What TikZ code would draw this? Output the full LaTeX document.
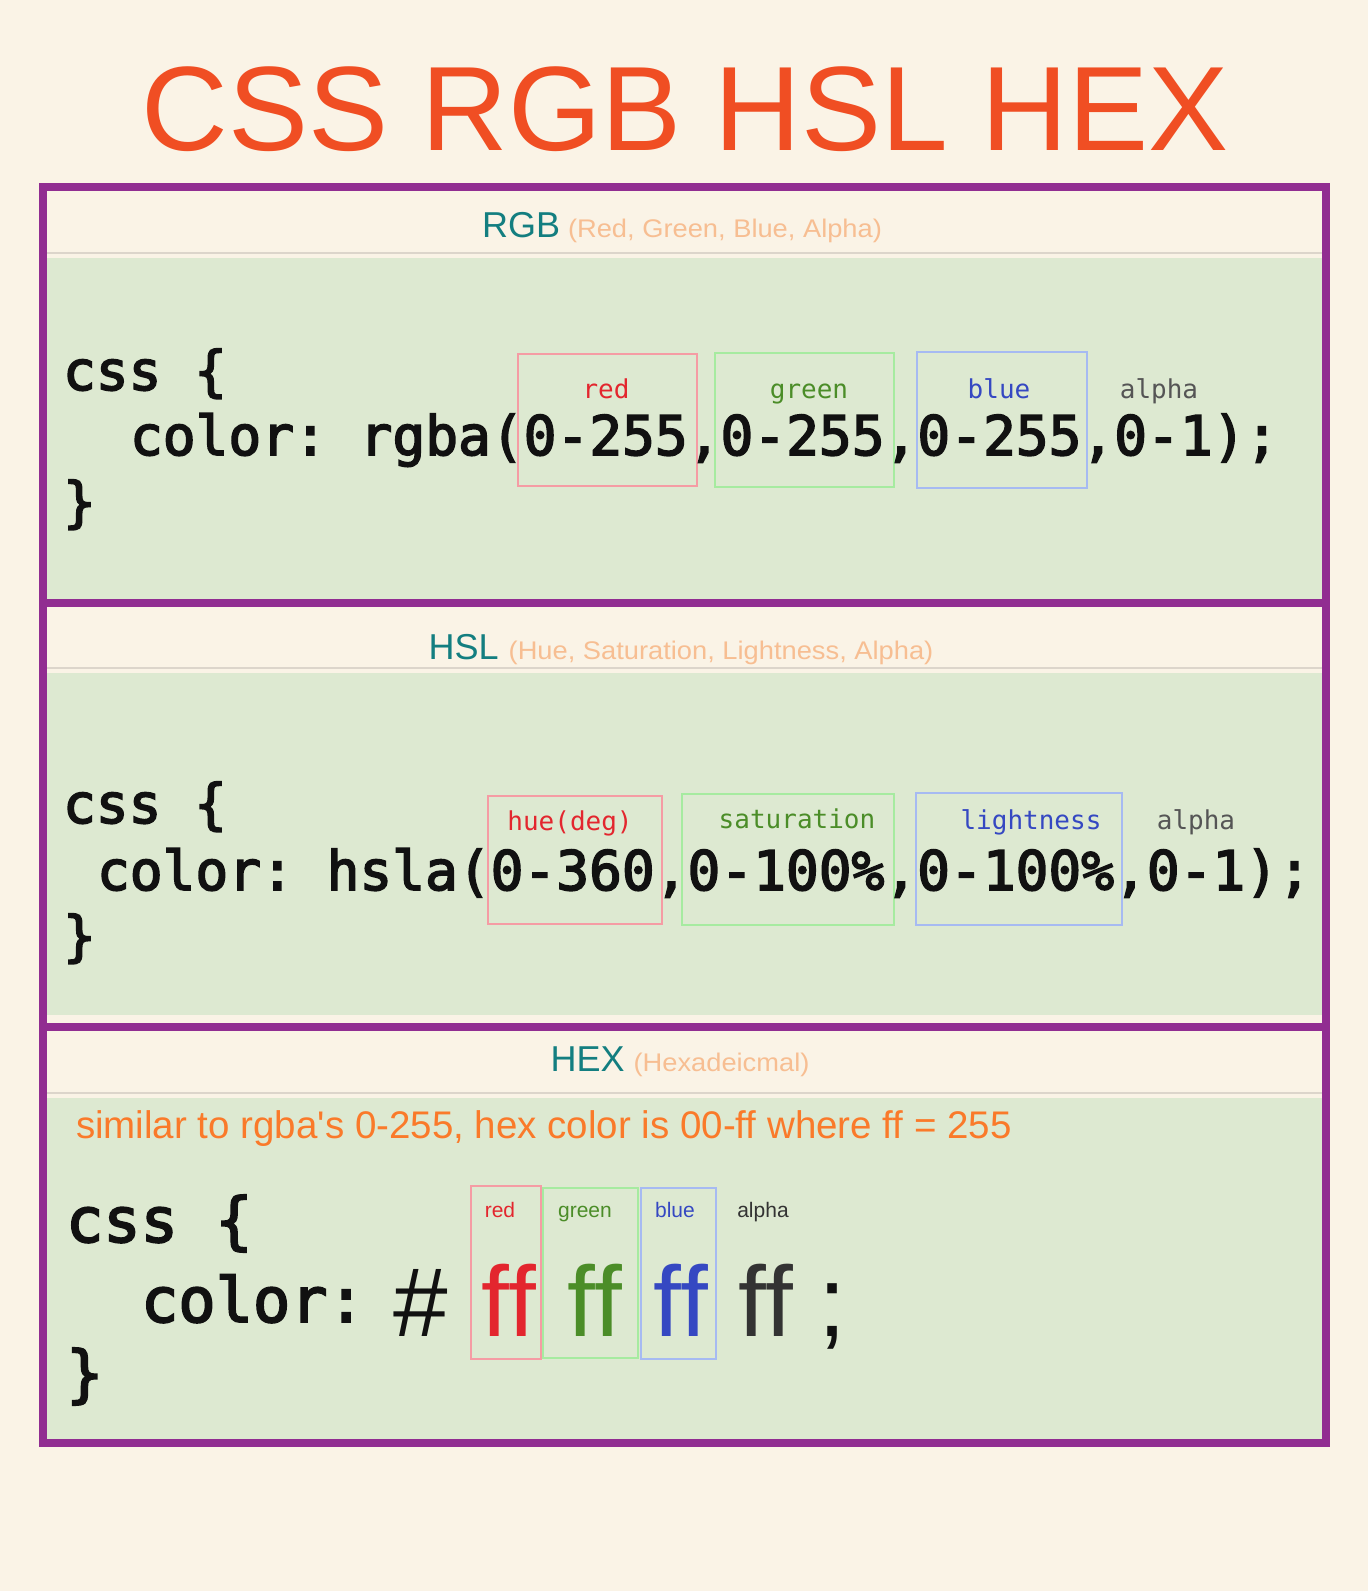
\documentclass[tikz,border=0pt]{standalone}
\usepackage{fontspec}
\setmainfont{Liberation Sans}
\setmonofont{DejaVu Sans Mono}
\newfontfamily\codefont{DejaVu Sans Mono}[FakeBold=3, PunctuationSpace=0]
\definecolor{bgc}{HTML}{FAF3E6}
\definecolor{panel}{HTML}{DDE9D1}
\definecolor{frame}{HTML}{912D91}
\definecolor{titlec}{HTML}{F04E23}
\definecolor{headc}{HTML}{137E80}
\definecolor{parenc}{HTML}{F7BE92}
\definecolor{notec}{HTML}{FA7A2A}
\definecolor{sepc}{HTML}{DCD5CB}
\definecolor{codec}{HTML}{111111}
\definecolor{lred}{HTML}{E3262E}
\definecolor{lgreen}{HTML}{4B8D28}
\definecolor{lblue}{HTML}{3548C2}
\definecolor{lgray}{HTML}{555555}
\definecolor{ldark}{HTML}{333333}
\definecolor{bred}{HTML}{F59CA4}
\definecolor{bgreen}{HTML}{A6EBA0}
\definecolor{bblue}{HTML}{A6BAF2}
\begin{document}
\begin{tikzpicture}[x=1pt,y=-1pt,
  txt/.style={inner sep=0pt, outer sep=0pt},
  code/.style={txt, anchor=base west, text=codec, font=\codefont\frenchspacing\fontsize{54.5}{60}\selectfont},
  codeL/.style={txt, anchor=base west, text=codec, font=\codefont\frenchspacing\fontsize{62}{66}\selectfont},
  mlabel/.style={txt, anchor=base, font=\ttfamily\fontsize{26}{30}\selectfont},
  slabel/.style={txt, anchor=base, font=\fontsize{21}{24}\selectfont},
  bigff/.style={txt, anchor=base west, font=\fontsize{100}{110}\selectfont},
  header/.style={txt, anchor=base},
  redbox/.style={draw=bred, line width=1.5pt},
  greenbox/.style={draw=bgreen, line width=1.5pt},
  bluebox/.style={draw=bblue, line width=1.5pt},
  panelfill/.style={fill=panel},
  sepline/.style={draw=sepc, line width=2pt},
  frameline/.style={draw=frame, line width=8pt}
]
\useasboundingbox (0,0) rectangle (1368,1591);
\fill[bgc] (0,0) rectangle (1368,1591);

% title
\node[txt, anchor=base, text=titlec, font=\fontsize{120}{130}\selectfont] (title) at (685,150) {CSS RGB HSL HEX};

% panels
\fill[panelfill] (47,258) rectangle (1322,600);
\fill[panelfill] (47,673) rectangle (1322,1015);
\fill[panelfill] (47,1098) rectangle (1322,1440);
\draw[sepline] (47,253) -- (1322,253);
\draw[sepline] (47,668) -- (1322,668);
\draw[sepline] (47,1093) -- (1322,1093);

% frame
\draw[frameline] (43,187) rectangle (1326,1443);
\draw[frameline] (43,603) -- (1326,603);
\draw[frameline] (43,1027) -- (1326,1027);

% headers
\node[header] (hrgb) at (682,237) {{\color{headc}\fontsize{36}{40}\selectfont RGB}\hspace{8pt}{\color{parenc}\fontsize{25.5}{28}\selectfont\scalebox{1.07}[1]{(Red, Green, Blue, Alpha)}}};
\node[header] (hhsl) at (681,659) {{\color{headc}\fontsize{36}{40}\selectfont HSL}\hspace{10pt}{\color{parenc}\fontsize{25.5}{28}\selectfont\scalebox{1.07}[1]{(Hue, Saturation, Lightness, Alpha)}}};
\node[header] (hhex) at (680,1071) {{\color{headc}\fontsize{36}{40}\selectfont HEX}\hspace{9pt}{\color{parenc}\fontsize{25.5}{28}\selectfont\scalebox{1.07}[1]{(Hexadeicmal)}}};

% RGB section
\draw[redbox] (518,354) rectangle (697,486);
\draw[greenbox] (715,353) rectangle (894,487);
\draw[bluebox] (917,352) rectangle (1087,488);
\node[mlabel, text=lred] (rgbred) at (606,398) {red};
\node[mlabel, text=lgreen] (rgbgreen) at (809,398) {green};
\node[mlabel, text=lblue] (rgbblue) at (999,398) {blue};
\node[mlabel, text=lgray] (rgbalpha) at (1159,398) {alpha};
\node[code] (rgb1) at (63,390) {css \{};
\node[code] (rgb2) at (130,455) {color: rgba(0-255,0-255,0-255,0-1);};
\node[code] (rgb3) at (63,521) {\}};

% HSL section
\draw[redbox] (488,796) rectangle (662,924);
\draw[greenbox] (682,794) rectangle (894,925);
\draw[bluebox] (916,793) rectangle (1122,925);
\node[mlabel, text=lred] (hslhue) at (570,830) {hue(deg)};
\node[mlabel, text=lgreen] (hslsat) at (797,828) {saturation};
\node[mlabel, text=lblue] (hsllight) at (1031,829) {lightness};
\node[mlabel, text=lgray] (hslalpha) at (1196,829) {alpha};
\node[code] (hsl1) at (63,823) {css \{};
\node[code] (hsl2) at (97,890) {color: hsla(0-360,0-100\%,0-100\%,0-1);};
\node[code] (hsl3) at (63,955) {\}};

% HEX section
\node[txt, anchor=base west, text=notec, font=\fontsize{38.5}{42}\selectfont] (note) at (76,1138) {similar to rgba\textquotesingle s 0-255, hex color is 00-ff where ff = 255};
\draw[redbox] (471,1186) rectangle (541,1359);
\draw[greenbox] (543,1188) rectangle (638,1358);
\draw[bluebox] (641,1188) rectangle (716,1359);
\node[slabel, text=lred] (hexred) at (500,1217) {red};
\node[slabel, text=lgreen] (hexgreen) at (585,1217) {green};
\node[slabel, text=lblue] (hexblue) at (675,1217) {blue};
\node[slabel, text=ldark] (hexalpha) at (763,1217) {alpha};
\node[codeL] (hex1) at (66,1242) {css \{};
\node[codeL] (hex2) at (141,1322) {color:};
\node[codeL] (hex3) at (66,1395) {\}};
\node[txt, anchor=base west, text=codec, font=\fontsize{98}{110}\selectfont] (hash) at (393,1336) {\#};
\node[bigff, text=lred] (ffr) at (481,1336) {f\kern0ptf};
\node[bigff, text=lgreen] (ffg) at (567,1336) {f\kern0ptf};
\node[bigff, text=lblue] (ffb) at (653,1336) {f\kern0ptf};
\node[bigff, text=ldark] (ffa) at (738,1336) {f\kern0ptf};
\node[bigff, text=codec] (semi) at (818,1336) {;};
\end{tikzpicture}
\end{document}
